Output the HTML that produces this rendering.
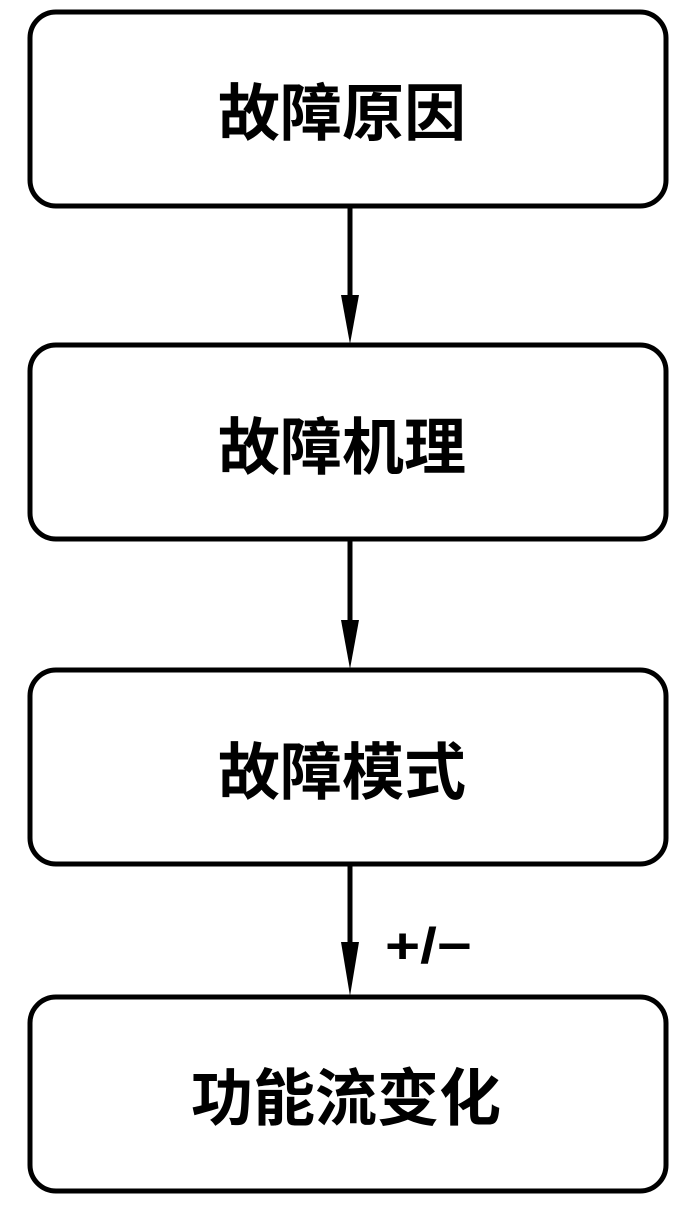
<!DOCTYPE html>
<html><head><meta charset="utf-8"><style>
body{margin:0;background:#fff;}
svg{display:block}
text{font-family:"Liberation Sans","Noto Sans CJK SC",sans-serif;font-weight:bold;fill:#000}
</style></head><body>
<svg width="700" height="1224" viewBox="0 0 700 1224">
<g fill="none" stroke="#000" stroke-width="5">
<rect x="30" y="12" width="636" height="194" rx="26"/>
<rect x="30" y="345" width="636" height="194" rx="26"/>
<rect x="30" y="670" width="636" height="194" rx="26"/>
<rect x="30" y="997" width="636" height="194" rx="26"/>
<line x1="350" y1="206" x2="350" y2="300"/>
<line x1="350" y1="539" x2="350" y2="625"/>
<line x1="350" y1="864" x2="350" y2="950"/>
</g>
<g fill="#000">
<polygon points="341,295 359,295 350,344"/>
<polygon points="341,620 359,620 350,669"/>
<polygon points="341,942 359,942 350,996"/>
</g>
<g font-size="62" text-anchor="middle">
<text x="342" y="135">故障原因</text>
<text x="342" y="469">故障机理</text>
<text x="342" y="794">故障模式</text>
<text x="346" y="1120">功能流变化</text>
</g>
<text x="385" y="963" font-size="50" textLength="87" lengthAdjust="spacingAndGlyphs">+/−</text>
</svg>
</body></html>
